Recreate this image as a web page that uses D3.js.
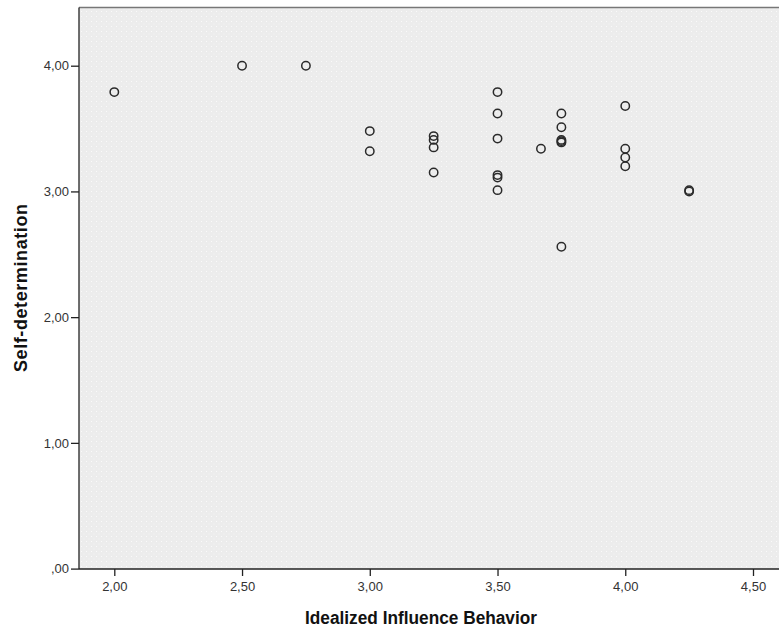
<!DOCTYPE html>
<html>
<head>
<meta charset="utf-8">
<script src="https://cdn.jsdelivr.net/npm/d3@7"></script>
<style>
  body { margin: 0; background: #fff; }
  text { font-family: "Liberation Sans", Arial, sans-serif; }
</style>
</head>
<body>
<script>
// Idealized Influence Behavior (x) vs Self-determination (y)
var influence = [2.00, 2.50, 2.75, 3.00, 3.00, 3.25, 3.25, 3.25, 3.25,
                 3.50, 3.50, 3.50, 3.50, 3.50, 3.50, 3.67,
                 3.75, 3.75, 3.75, 3.75, 3.75, 3.75,
                 4.00, 4.00, 4.00, 4.00, 4.25, 4.25];
var selfDet   = [3.79, 4.00, 4.00, 3.48, 3.32, 3.44, 3.41, 3.35, 3.15,
                 3.79, 3.62, 3.42, 3.13, 3.11, 3.01, 3.34,
                 3.62, 3.51, 3.41, 3.40, 3.39, 2.56,
                 3.68, 3.34, 3.27, 3.20, 3.01, 3.00];
var xTicks = [2.0, 2.5, 3.0, 3.5, 4.0, 4.5];
var yTicks = [0, 1, 2, 3, 4];

var width = 779, height = 630;
var fmt = function(v) { return d3.format('.2f')(v).replace('0.', '.').replace('.', ','); };

var svg = d3.select('body')
  .append('svg')
  .attr('width', width)
  .attr('height', height);

var x = d3.scaleLinear()
    .domain([2, 4.5])
    .range([114.3, 753]);
var y = d3.scaleLinear()
    .domain([0, 4])
    .range([568.6, 65.7]);

var plot = {left: 79, right: 781, top: 7.5, bottom: 569};

// dotted background of the plot area
var defs = svg.append('defs');
var pat = defs.append('pattern')
    .attr('id', 'dots')
    .attr('width', 5)
    .attr('height', 5)
    .attr('patternUnits', 'userSpaceOnUse');
pat.append('rect').attr('width', 5).attr('height', 5).attr('fill', '#ececec');
pat.append('rect').attr('x', 1).attr('y', 1).attr('width', 1).attr('height', 1).attr('fill', '#fafafa');
pat.append('rect').attr('x', 3.5).attr('y', 3.5).attr('width', 1).attr('height', 1).attr('fill', '#f6f6f6');

svg.append('rect')
  .attr('x', plot.left)
  .attr('y', plot.top)
  .attr('width', plot.right - plot.left)
  .attr('height', plot.bottom - plot.top)
  .attr('fill', 'url(#dots)');

// top frame line
svg.append('line')
  .attr('x1', plot.left).attr('x2', plot.right)
  .attr('y1', plot.top).attr('y2', plot.top)
  .attr('stroke', '#777')
  .attr('stroke-width', 1.5);

// axes
function yAxis(g) {
  g.attr('transform', `translate(${plot.left},0)`)
   .call(d3.axisLeft(y).tickValues(yTicks).tickSize(8).tickPadding(2).tickFormat(fmt))
   .attr('font-size', '13px')
   .attr('font-family', '"Liberation Sans", Arial, sans-serif');
  g.select('.domain').remove();
  g.selectAll('.tick line').attr('stroke', '#222').attr('stroke-width', 1.3);
  g.selectAll('.tick text').attr('fill', '#333');
}
function xAxis(g) {
  g.attr('transform', `translate(0,${plot.bottom})`)
   .call(d3.axisBottom(x).tickValues(xTicks).tickSize(7).tickPadding(6).tickFormat(fmt))
   .attr('font-size', '13px')
   .attr('font-family', '"Liberation Sans", Arial, sans-serif');
  g.select('.domain').remove();
  g.selectAll('.tick line').attr('stroke', '#222').attr('stroke-width', 1.3);
  g.selectAll('.tick text').attr('fill', '#333');
}
svg.append('g').call(xAxis);
svg.append('g').call(yAxis);

// left and bottom frame lines
svg.append('line')
  .attr('x1', plot.left).attr('x2', plot.left)
  .attr('y1', plot.top).attr('y2', plot.bottom)
  .attr('stroke', '#222').attr('stroke-width', 1.3);
svg.append('line')
  .attr('x1', plot.left).attr('x2', plot.right)
  .attr('y1', plot.bottom).attr('y2', plot.bottom)
  .attr('stroke', '#222').attr('stroke-width', 1.3);

// points
svg.append('g')
  .selectAll('circle')
  .data(d3.range(influence.length))
  .enter()
    .append('circle')
    .attr('cx', i => x(influence[i]))
    .attr('cy', i => y(selfDet[i]))
    .attr('r', 4.2)
    .attr('fill', 'none')
    .attr('stroke', '#2a2a2a')
    .attr('stroke-width', 1.5);

// axis titles
svg.append('text')
  .attr('x', 421)
  .attr('y', 624)
  .attr('text-anchor', 'middle')
  .attr('font-size', '18px')
  .attr('font-weight', 'bold')
  .attr('fill', '#111')
  .attr('textLength', 232)
  .attr('lengthAdjust', 'spacingAndGlyphs')
  .text('Idealized Influence Behavior');

svg.append('text')
  .attr('transform', 'translate(27,288) rotate(270)')
  .attr('text-anchor', 'middle')
  .attr('font-size', '18px')
  .attr('font-weight', 'bold')
  .attr('fill', '#111')
  .attr('textLength', 168)
  .attr('lengthAdjust', 'spacing')
  .text('Self-determination');
</script>
</body>
</html>
